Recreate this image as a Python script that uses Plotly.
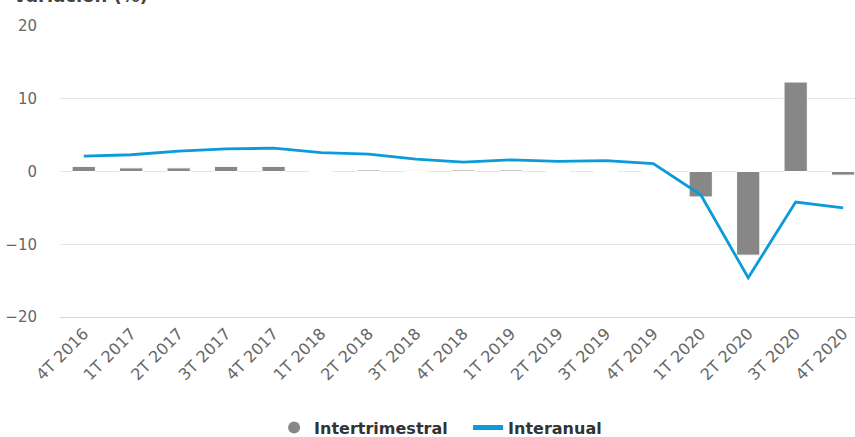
import plotly.graph_objects as go

categories = ["4T 2016", "1T 2017", "2T 2017", "3T 2017", "4T 2017", "1T 2018", "2T 2018",
              "3T 2018", "4T 2018", "1T 2019", "2T 2019", "3T 2019", "4T 2019", "1T 2020",
              "2T 2020", "3T 2020", "4T 2020"]
intertrimestral = [0.7, 0.5, 0.5, 0.7, 0.7, 0.0, 0.2, 0.1, 0.2, 0.2, 0.0, 0.0, 0.0,
                   -3.5, -11.5, 12.3, -0.5]
interanual = [2.1, 2.3, 2.8, 3.1, 3.2, 2.6, 2.4, 1.7, 1.3, 1.6, 1.4, 1.5, 1.1,
              -3.2, -14.6, -4.2, -5.0]
y_ticks = [-20, -10, 0, 10, 20]

FONT = "DejaVu Sans"
BAR_COLOR = "#878787"
LINE_COLOR = "#0a9bd8"

fig = go.Figure()
fig.add_trace(go.Bar(
    x=categories, y=intertrimestral, name="Intertrimestral",
    marker=dict(color=BAR_COLOR, line=dict(color="white", width=1)),
    width=0.49, showlegend=False,
))
# legend proxy (circle symbol)
fig.add_trace(go.Scatter(
    x=[None], y=[None], mode="markers", name="Intertrimestral",
    marker=dict(color=BAR_COLOR, size=17, symbol="circle"),
))
fig.add_trace(go.Scatter(
    x=categories, y=interanual, name="Interanual", mode="lines",
    line=dict(color=LINE_COLOR, width=2.8),
))

fig.update_layout(
    width=855, height=437,
    margin=dict(l=60, r=0, t=26, b=120, autoexpand=False),
    plot_bgcolor="white", paper_bgcolor="white",
    font=dict(family=FONT, color="#666666", size=15),
    showlegend=True,
    legend=dict(
        orientation="h", x=0.2693, xanchor="left", y=-0.322, yanchor="top",
        font=dict(family=FONT, size=16, color="#333333", weight="bold"),
        itemsizing="constant", traceorder="normal",
        entrywidth=149, entrywidthmode="pixels",
    ),
    xaxis=dict(
        type="category", range=[-0.5, 16.25], tickangle=-45,
        showgrid=False, showline=True, linecolor="#ccd6eb", linewidth=1,
        ticks="", tickfont=dict(size=16, color="#666666"), automargin=False,
    ),
    yaxis=dict(
        range=[-20, 20], tickvals=y_ticks, showgrid=True, gridcolor="#e6e6e6",
        gridwidth=1, zeroline=False, ticks="", ticklabelstandoff=22,
        tickfont=dict(size=15, color="#666666"), automargin=False,
    ),
    annotations=[dict(
        text="<b>Variación (%)</b>", xref="paper", yref="paper", x=-0.062, y=1.063,
        xanchor="left", yanchor="bottom", showarrow=False,
        font=dict(family=FONT, size=18, color="#444444"),
    )],
)

fig.write_html("out.html")
